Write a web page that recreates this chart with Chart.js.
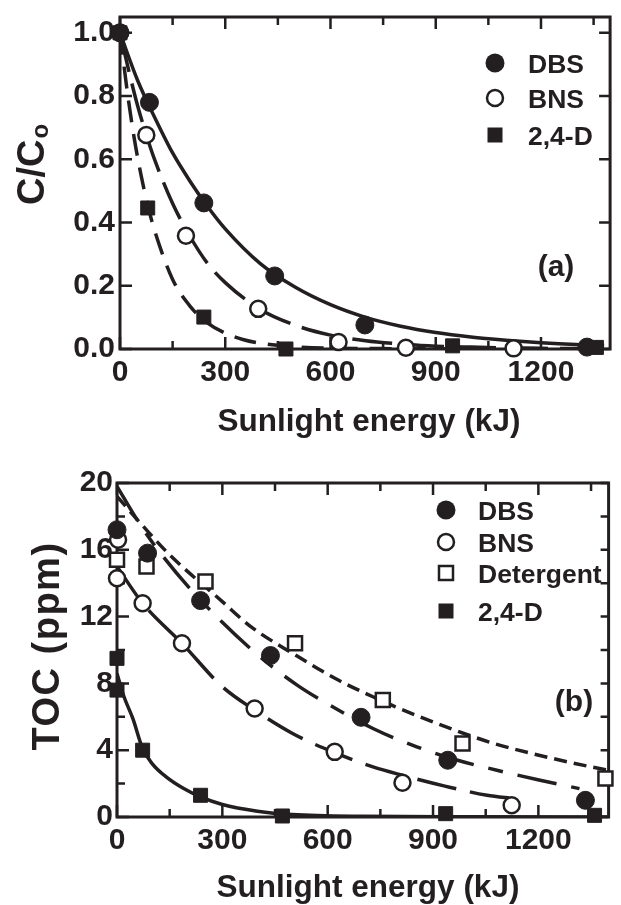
<!DOCTYPE html>
<html><head><meta charset="utf-8">
<script src="https://cdn.jsdelivr.net/npm/chart.js@4.4.1/dist/chart.umd.min.js"></script>
<style>
html,body{margin:0;padding:0;background:#fff;}
#wrap{position:relative;width:621px;height:905px;overflow:hidden;}
canvas{position:absolute;left:0;top:0;}
</style>
</head><body>
<div id="wrap"><canvas id="ca" width="621" height="905"></canvas><canvas id="cb" width="621" height="905"></canvas></div>
<script>
// ---------- Panel (a): C/Co ----------
const aXTicks = [0,150,300,450,600,750,900,1050,1200,1350];
const aYTicks = [0,0.2,0.4,0.6,0.8,1.0];
const aLegend = ['DBS','BNS','2,4-D'];
// measured points
const aDbsX = [0,84,239,441,698,1331];
const aDbsY = [1.0,0.78,0.462,0.231,0.076,0.006];
const aBnsX = [0,75,188,394,623,815,1122];
const aBnsY = [1.0,0.677,0.358,0.127,0.022,0.004,0.002];
const aDX = [0,79,239,473,948,1358];
const aDY = [1.0,0.446,0.101,0.0,0.01,0.005];
// fitted curves
const aDbsCurveX = [0,50,100,150,200,250,300,400,500,600,700,800,900,1000,1100,1200,1300,1380];
const aDbsCurveY = [1.0,0.85,0.73,0.62,0.53,0.45,0.38,0.27,0.195,0.14,0.10,0.072,0.052,0.038,0.028,0.02,0.014,0.011];
const aBnsCurveX = [0,25,50,75,100,150,200,250,300,400,500,600,700,800,900,1000,1200,1380];
const aBnsCurveY = [1.0,0.88,0.77,0.677,0.595,0.46,0.355,0.27,0.21,0.125,0.075,0.044,0.026,0.016,0.009,0.006,0.002,0.001];
const aDCurveX = [0,20,40,60,80,100,150,200,250,300,350,400,500,600,800,1000];
const aDCurveY = [1.0,0.82,0.67,0.55,0.45,0.37,0.22,0.135,0.082,0.05,0.03,0.018,0.007,0.0025,0.001,0];

// ---------- Panel (b): TOC ----------
const bXTicks = [0,150,300,450,600,750,900,1050,1200,1350];
const bYTicks = [0,2,4,6,8,10,12,14,16,18,20];
const bLegend = ['DBS','BNS','Detergent','2,4-D'];
const bDbsX = [0,87,238,437,695,942,1334];
const bDbsY = [17.2,15.8,12.96,9.67,5.97,3.4,1.0];
const bBnsX = [0,3,73,185,392,620,813,1124];
const bBnsY = [14.3,16.6,12.8,10.4,6.5,3.9,2.05,0.7];
const bDetX = [0,84,252,507,757,984,1391];
const bDetY = [15.4,15.0,14.1,10.4,7.0,4.4,2.3];
const bDX = [0,0,73,238,471,936,1360];
const bDY = [9.5,7.6,4.0,1.3,0.06,0.2,0.1];
const bDbsCurveX = [0,60,120,233,401,513,606,729,841,970,1082,1205,1317];
const bDbsCurveY = [19.8,17.7,15.9,13.1,9.7,7.9,6.7,5.3,4.3,3.4,2.8,2.2,1.7];
const bDetCurveX = [0,75,150,300,381,500,630,729,793,962,1074,1242,1374,1400];
const bDetCurveY = [19.2,17.4,15.7,12.9,11.4,9.8,8.2,7.2,6.6,5.2,4.4,3.5,2.9,2.8];
const bBnsCurveX = [0,73,185,300,392,500,620,729,813,934,1054,1130];
const bBnsCurveY = [15.0,12.8,10.4,7.8,6.4,5.0,3.85,3.0,2.5,1.85,1.3,1.1];
const bDCurveX = [0,20,45,73,100,140,190,233,300,400,500,700,1000,1400];
const bDCurveY = [8.6,7.2,5.9,4.1,3.2,2.4,1.7,1.25,0.75,0.35,0.15,0.04,0.01,0];

const INK = '#231f20';
const FONT = "'Liberation Sans', Arial, Helvetica, sans-serif";
const pts = (xs, ys) => xs.map((x, i) => ({x: x, y: ys[i]}));

const markerStyles = {
  dot:  {pointStyle:'circle', pointRadius:9, backgroundColor:INK, borderColor:INK, borderWidth:1},
  ring: {pointStyle:'circle', pointRadius:8, backgroundColor:'#fff', borderColor:INK, borderWidth:2.5},
  sq:   {pointStyle:'rect', pointRadius:9.9, backgroundColor:INK, borderColor:INK, borderWidth:1},
  osq:  {pointStyle:'rect', pointRadius:9.9, backgroundColor:'#fff', borderColor:INK, borderWidth:2.5}
};
function pointSet(xs, ys, style) {
  return Object.assign({data: pts(xs, ys), showLine:false, order:0, clip:false}, markerStyles[style]);
}
function curveSet(xs, ys, dash) {
  return {data: pts(xs, ys), showLine:true, order:1, pointRadius:0, borderColor:INK, borderWidth:3.5,
          borderDash:dash, borderCapStyle:'butt', cubicInterpolationMode:'monotone', fill:false};
}

function drawMarker(ctx, style, x, y) {
  ctx.save();
  ctx.fillStyle = INK; ctx.strokeStyle = INK;
  if (style === 'dot') { ctx.beginPath(); ctx.arc(x, y, 9.5, 0, 2*Math.PI); ctx.fill(); }
  else if (style === 'ring') { ctx.lineWidth = 2.5; ctx.fillStyle = '#fff'; ctx.beginPath(); ctx.arc(x, y, 8, 0, 2*Math.PI); ctx.fill(); ctx.stroke(); }
  else if (style === 'sq') { ctx.fillRect(x-7.5, y-7.5, 15, 15); }
  else if (style === 'osq') { ctx.lineWidth = 2.5; ctx.fillStyle = '#fff'; ctx.fillRect(x-7, y-7, 14, 14); ctx.strokeRect(x-7, y-7, 14, 14); }
  ctx.restore();
}

function framePlugin(opt) {
  return {
    id: 'frame_' + opt.name,
    beforeDatasetsDraw(chart) {
      const ctx = chart.ctx, ca = chart.chartArea, xs = chart.scales.x, ys = chart.scales.y;
      ctx.save();
      ctx.strokeStyle = INK; ctx.lineCap = 'butt';
      ctx.lineWidth = 2.5;
      ctx.beginPath();
      xs.ticks.forEach(t => {
        const px = xs.getPixelForValue(t.value);
        const L = opt.xMajor(t.value) ? 12 : 8;
        ctx.moveTo(px, ca.bottom); ctx.lineTo(px, ca.bottom - L);
        ctx.moveTo(px, ca.top); ctx.lineTo(px, ca.top + L);
      });
      ys.ticks.forEach(t => {
        const py = ys.getPixelForValue(t.value);
        const L = opt.yMajor(t.value) ? 12 : 8;
        ctx.moveTo(ca.left, py); ctx.lineTo(ca.left + L, py);
        ctx.moveTo(ca.right, py); ctx.lineTo(ca.right - opt.rightLen, py);
      });
      ctx.stroke();
      ctx.lineWidth = 3;
      ctx.strokeRect(ca.left, ca.top, ca.right - ca.left, ca.bottom - ca.top);
      ctx.restore();
    },
    afterDraw(chart) {
      const ctx = chart.ctx, ca = chart.chartArea;
      ctx.save();
      ctx.fillStyle = INK;
      // x title
      ctx.font = 'bold 31.5px ' + FONT;
      ctx.textAlign = 'center'; ctx.textBaseline = 'alphabetic';
      ctx.fillText('Sunlight energy (kJ)', opt.xTitleX, opt.xTitleY);
      // y title
      opt.drawYTitle(ctx);
      // legend
      ctx.font = 'bold 26.5px ' + FONT;
      ctx.textAlign = 'left'; ctx.textBaseline = 'alphabetic';
      opt.legend.forEach((lab, i) => {
        const y = opt.legRows[i];
        drawMarker(ctx, opt.legStyles[i], opt.legMarkX, y);
        ctx.fillStyle = INK;
        ctx.fillText(lab, opt.legTextX, y + 9.5);
      });
      // panel label
      ctx.font = 'bold 30px ' + FONT;
      ctx.textAlign = 'center'; ctx.textBaseline = 'middle';
      ctx.fillText(opt.panel, opt.panelX, opt.panelY);
      ctx.restore();
    }
  };
}

function baseScales(cfg) {
  return {
    x: {
      type:'linear', min:0, max:cfg.xMax,
      grid:{display:false, drawTicks:false}, border:{display:false},
      afterBuildTicks: s => { s.ticks = cfg.xTicks.map(v => ({value:v})); },
      afterFit: s => { s.height = cfg.xHeight; s.paddingLeft = 0; s.paddingRight = 0; },
      ticks:{autoSkip:false, maxRotation:0, minRotation:0, padding:6, color:INK,
             font:{family:FONT, weight:'bold', size:30},
             callback: v => (v % 300 === 0 ? String(v) : '')}
    },
    y: {
      type:'linear', min:0, max:cfg.yMax,
      grid:{display:false, drawTicks:false}, border:{display:false},
      afterBuildTicks: s => { s.ticks = cfg.yTicks.map(v => ({value:v})); },
      afterFit: s => { s.width = cfg.yWidth; s.paddingTop = 0; s.paddingBottom = 0; },
      ticks:{autoSkip:false, padding:cfg.yPad, color:INK,
             font:{family:FONT, weight:'bold', size:30},
             callback: cfg.yLabel}
    }
  };
}

const commonOpts = {responsive:false, animation:false, events:[],
  plugins:{legend:{display:false}, tooltip:{enabled:false}}};

// Chart (a)
new Chart(document.getElementById('ca'), {
  type:'scatter',
  data:{datasets:[
    pointSet(aDbsX, aDbsY, 'dot'),
    pointSet(aBnsX, aBnsY, 'ring'),
    pointSet(aDX, aDY, 'sq'),
    curveSet(aDbsCurveX, aDbsCurveY, []),
    curveSet(aBnsCurveX, aBnsCurveY, [40,12]),
    curveSet(aDCurveX, aDCurveY, [22,12])
  ]},
  options:Object.assign({}, commonOpts, {
    layout:{padding:{top:17, left:0, right:5, bottom:455}},
    scales: baseScales({xMax:1397, xTicks:aXTicks, xHeight:101, yMax:1.05, yTicks:aYTicks, yWidth:120, yPad:5,
                        yLabel: v => v.toFixed(1)})
  }),
  plugins:[framePlugin({
    name:'a', xMajor: v => v % 300 === 0, yMajor: v => true, rightLen: 11,
    xTitleX: 369, xTitleY: 431,
    drawYTitle: ctx => {
      ctx.save();
      ctx.translate(44, 165);
      ctx.rotate(-Math.PI/2);
      ctx.font = 'bold 38px ' + FONT;
      const w1 = ctx.measureText('C/C').width;
      ctx.font = 'bold 24px ' + FONT;
      const w2 = ctx.measureText('o').width;
      const start = -(w1 + w2) / 2;
      ctx.textAlign = 'left'; ctx.textBaseline = 'alphabetic';
      ctx.font = 'bold 38px ' + FONT;
      ctx.fillText('C/C', start, 0);
      ctx.font = 'bold 24px ' + FONT;
      ctx.fillText('o', start + w1 + 1, 4);
      ctx.restore();
    },
    legend: aLegend, legStyles:['dot','ring','sq'], legRows:[63,98,135], legMarkX:495, legTextX:528,
    panel:'(a)', panelX:556, panelY:268
  })]
});

// Chart (b)
new Chart(document.getElementById('cb'), {
  type:'scatter',
  data:{datasets:[
    pointSet(bDbsX, bDbsY, 'dot'),
    pointSet(bBnsX, bBnsY, 'ring'),
    pointSet(bDetX, bDetY, 'osq'),
    pointSet(bDX, bDY, 'sq'),
    curveSet(bDbsCurveX, bDbsCurveY, [40,15,15,15]),
    curveSet(bBnsCurveX, bBnsCurveY, [40,14]),
    curveSet(bDetCurveX, bDetCurveY, [13,7]),
    curveSet(bDCurveX, bDCurveY, [])
  ]},
  options:Object.assign({}, commonOpts, {
    layout:{padding:{top:483, left:0, right:5, bottom:0}},
    scales: baseScales({xMax:1400, xTicks:bXTicks, xHeight:88, yMax:20, yTicks:bYTicks, yWidth:117, yPad:4,
                        yLabel: v => (v % 4 === 0 ? String(v) : '')})
  }),
  plugins:[framePlugin({
    name:'b', xMajor: v => v % 300 === 0, yMajor: v => v % 4 === 0, rightLen: 8,
    xTitleX: 368, xTitleY: 897,
    drawYTitle: ctx => {
      ctx.save();
      ctx.translate(59, 646);
      ctx.rotate(-Math.PI/2);
      ctx.font = 'bold 38px ' + FONT;
      try { ctx.letterSpacing = '1.5px'; } catch (e) {}
      ctx.textAlign = 'center'; ctx.textBaseline = 'alphabetic';
      ctx.fillText('TOC (ppm)', 0, 0);
      ctx.restore();
    },
    legend: bLegend, legStyles:['dot','ring','osq','sq'], legRows:[510,542,573,611], legMarkX:446, legTextX:478,
    panel:'(b)', panelX:574, panelY:703
  })]
});
</script>
</body></html>
